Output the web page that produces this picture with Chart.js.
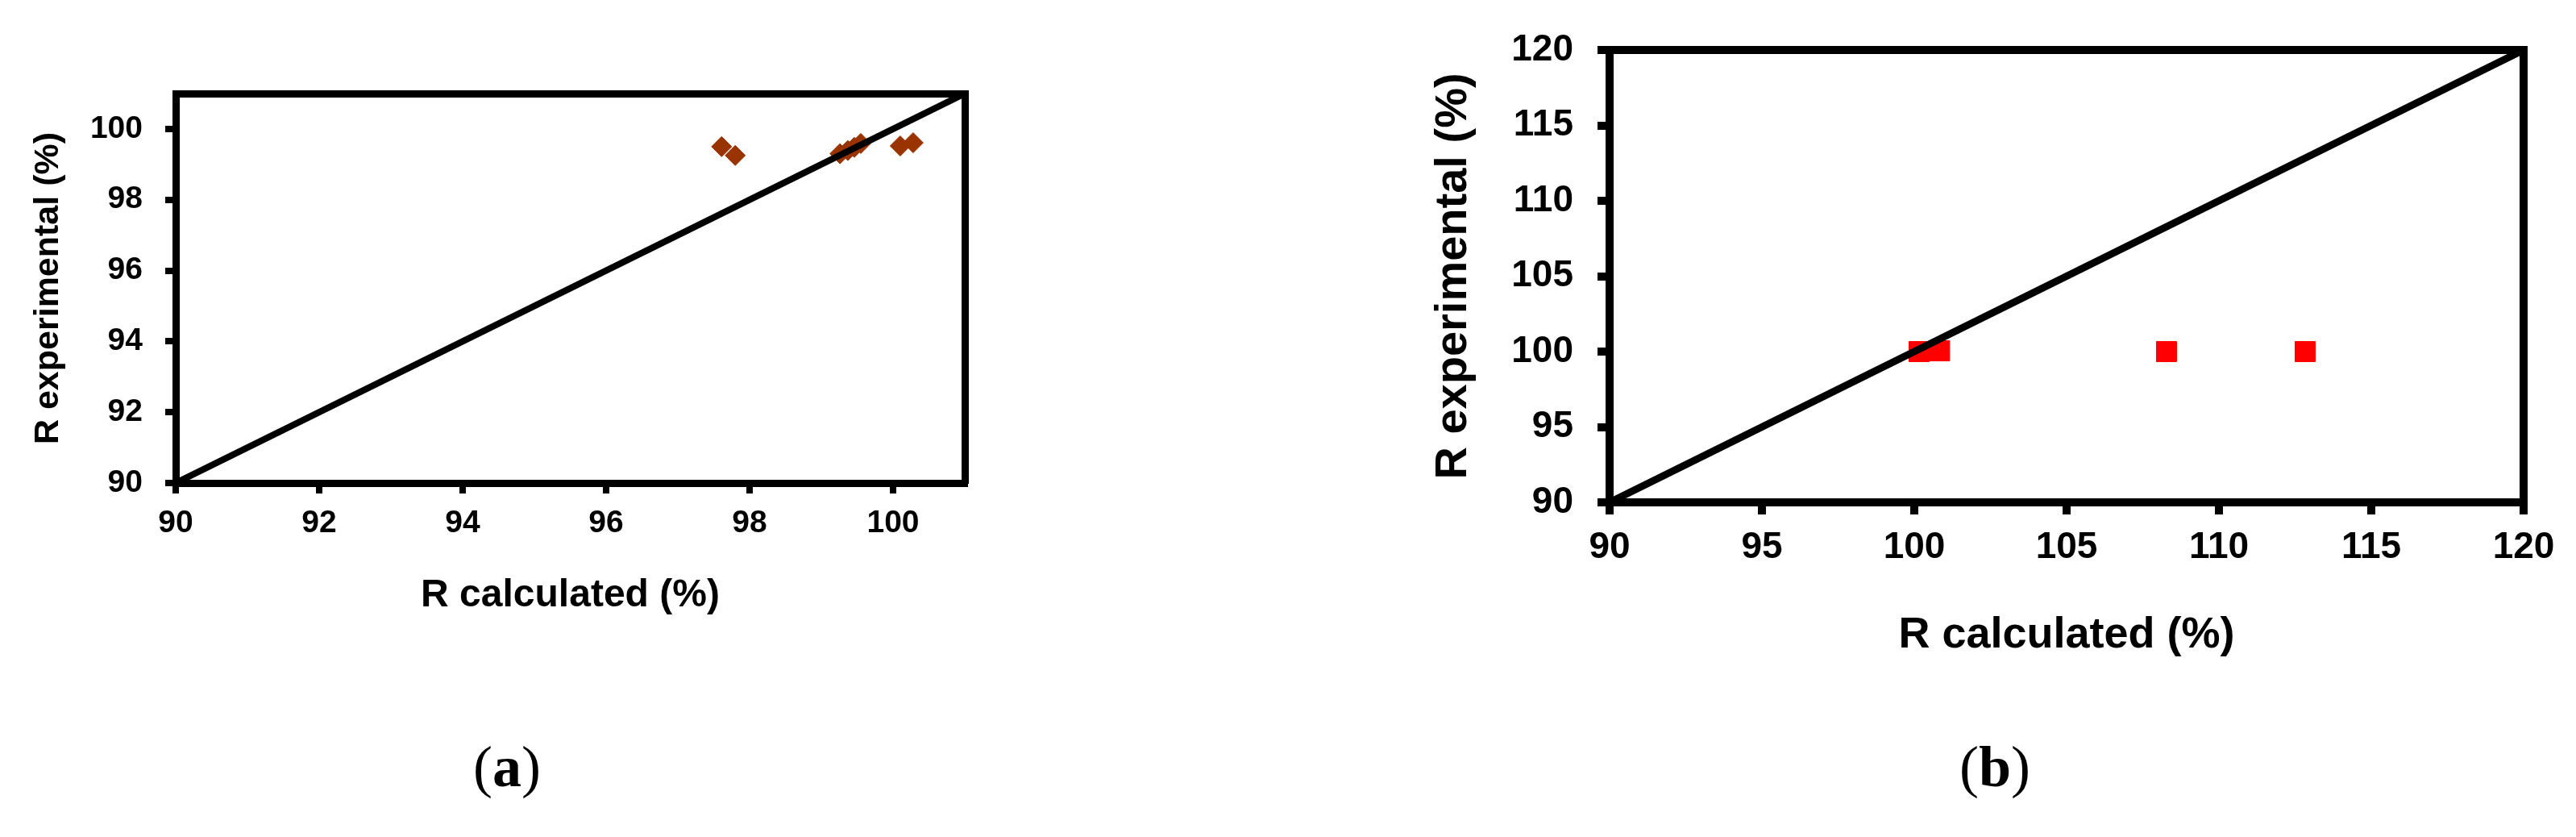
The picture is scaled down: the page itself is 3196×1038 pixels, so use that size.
<!DOCTYPE html>
<html>
<head>
<meta charset="utf-8">
<script src="https://cdn.jsdelivr.net/npm/chart.js@4.4.1/dist/chart.umd.min.js"></script>
<style>
  body { margin: 0; background: #fff; width: 3196px; height: 1038px; position: relative; overflow: hidden; }
  canvas { position: absolute; top: 0; }
  #chartA { left: 0; }
  #chartB { left: 1700px; }
  .panel { position: absolute; width: 200px; text-align: center; font-family: "Liberation Serif", "DejaVu Serif", serif; font-size: 72px; line-height: 1; color: #000; }
  #labelA { left: 529px; top: 915px; }
  #labelB { left: 2375px; top: 915px; }
</style>
</head>
<body>
<canvas id="chartA" width="1300" height="900"></canvas>
<canvas id="chartB" width="1496" height="900"></canvas>
<div class="panel" id="labelA">(<b>a</b>)</div>
<div class="panel" id="labelB">(<b>b</b>)</div>

<script>
// _____________________________________________________________________________
// data

// (a) R calculated vs R experimental, brown diamonds
var calcA = [97.61, 97.80, 99.26, 99.37, 99.46, 99.55, 100.10, 100.28];
var expA = [99.50, 99.25, 99.30, 99.39, 99.48, 99.59, 99.52, 99.61];
var xTicksA = [90, 92, 94, 96, 98, 100];
var yTicksA = [90, 92, 94, 96, 98, 100];
var rangeA = [90, 101];

// (b) same thing, red squares
var calcB = [100.16, 100.83, 108.28, 112.83];
var expB = [100.0, 100.05, 100.0, 100.0];
var xTicksB = [90, 95, 100, 105, 110, 115, 120];
var yTicksB = [90, 95, 100, 105, 110, 115, 120];
var rangeB = [90, 120];

var FONT = '"Liberation Sans", Arial, sans-serif';

// _____________________________________________________________________________

// one axis with fixed size so the plot box lands where it is in the picture
function axis(pos, range, ticks, s, title) {
  var left = pos === 'left';
  return {
    type: 'linear',
    position: pos,
    min: range[0],
    max: range[1],
    afterBuildTicks: function (sc) {
      sc.ticks = ticks.map(function (v) { return { value: v }; });
    },
    afterFit: function (sc) {
      if (left) sc.width = s.yWidth; else sc.height = s.xHeight;
    },
    grid: { display: true, drawOnChartArea: false, drawTicks: true, tickLength: s.tickLen, lineWidth: s.tickWidth, color: '#000' },
    border: { display: true, width: s.border, color: '#000' },
    ticks: {
      color: '#000',
      padding: left ? s.yPad : s.xPad,
      font: { family: FONT, weight: 'bold', size: s.tickSize }
    },
    title: {
      display: true,
      text: title,
      color: '#000',
      font: { family: FONT, weight: 'bold', size: left ? s.yTitleSize : s.xTitleSize, lineHeight: 1.2 },
      padding: left ? { top: s.yTitlePad, bottom: 0 } : { top: 0, bottom: s.xTitlePad }
    }
  };
}

// top and right edges of the box, no ticks
function edge(pos, range, s) {
  return {
    type: 'linear',
    position: pos,
    min: range[0],
    max: range[1],
    afterFit: function (sc) {
      if (pos === 'right') sc.width = 0; else sc.height = 0;
    },
    grid: { display: false },
    border: { display: true, width: s.border, color: '#000' },
    ticks: { display: false }
  };
}

function makeChart(id, xs, ys, range, xTicks, yTicks, marker, s) {
  var points = xs.map(function (x, i) { return { x: x, y: ys[i] }; });
  return new Chart(document.getElementById(id), {
    type: 'scatter',
    data: {
      datasets: [
        {
          // 1:1 line
          data: [{ x: range[0], y: range[0] }, { x: range[1], y: range[1] }],
          showLine: true,
          borderColor: '#000',
          borderWidth: s.lineWidth,
          pointRadius: 0,
          order: 0
        },
        {
          data: points,
          pointStyle: marker.style,
          pointRadius: marker.radius,
          backgroundColor: marker.color,
          borderColor: marker.color,
          pointBorderWidth: 1,
          order: 1
        }
      ]
    },
    options: {
      responsive: false,
      animation: false,
      layout: { padding: { left: 0, top: s.top, right: s.right, bottom: 0 } },
      plugins: { legend: { display: false }, tooltip: { enabled: false } },
      scales: {
        x: axis('bottom', range, xTicks, s, 'R calculated (%)'),
        y: axis('left', range, yTicks, s, 'R experimental (%)'),
        x2: edge('top', range, s),
        y2: edge('right', range, s)
      }
    }
  });
}

// _____________________________________________________________________________

const chartA = makeChart('chartA', calcA, expA, rangeA, xTicksA, yTicksA,
  { style: 'rectRot', radius: 12.5, color: '#993300' },
  {
    yWidth: 218, xHeight: 301, top: 116, right: 103,
    tickLen: 13, tickWidth: 8, border: 9, lineWidth: 8,
    tickSize: 39, yPad: 28, xPad: 14,
    xTitleSize: 48, xTitlePad: 132, yTitleSize: 43, yTitlePad: 34
  });

const chartB = makeChart('chartB', calcB, expB, rangeB, xTicksB, yTicksB,
  { style: 'rect', radius: 17.7, color: '#FF0000' },
  {
    yWidth: 297, xHeight: 277, top: 62, right: 65,
    tickLen: 15, tickWidth: 10, border: 10, lineWidth: 9,
    tickSize: 46, yPad: 30, xPad: 14,
    xTitleSize: 54, xTitlePad: 79, yTitleSize: 56, yTitlePad: 70
  });
</script>
</body>
</html>
